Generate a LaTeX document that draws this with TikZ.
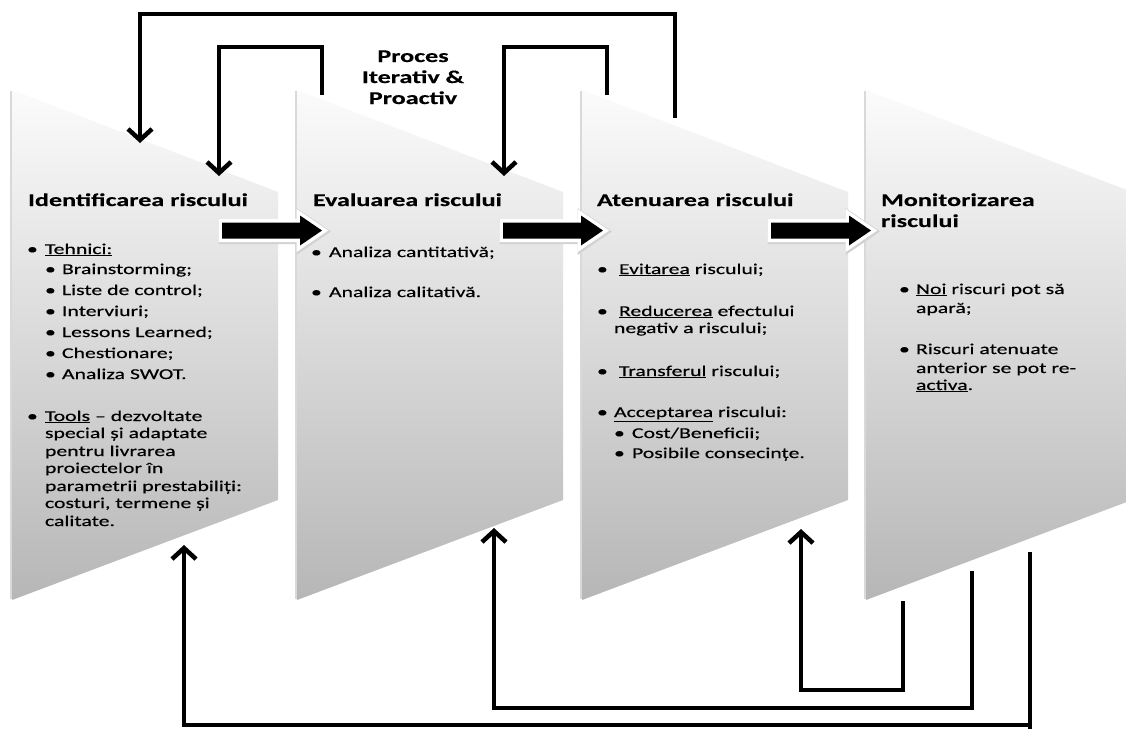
\documentclass[tikz,border=0pt]{standalone}
\usepackage{fontspec}
\setmainfont{Carlito}[FakeStretch=1.45, UprightFeatures={FakeBold=0.4}, BoldFeatures={FakeBold=0.3}]
\usetikzlibrary{arrows.meta}
\definecolor{ptop}{gray}{0.985}
\definecolor{pbot}{gray}{0.715}
\newcommand{\bul}[1]{\makebox[#1][l]{\textbullet}}
\newcommand{\ptext}[4]{\node[txt] (#1) at (#2,#3) {#4};}
\newcommand{\pbold}[4]{\node[ttl] (#1) at (#2,#3) {#4};}
\newcommand{\blockarrow}[2]{%
  \path[shadowline] (#1+1,#2-8+1) -- ++(78,0) -- ++(0,-7) -- ++(22,15) -- ++(-22,15) -- ++(0,-7) -- ++(-78,0) -- cycle;
  \path[whiteline] (#1,#2-8) -- ++(78,0) -- ++(0,-7) -- ++(22,15) -- ++(-22,15) -- ++(0,-7) -- ++(-78,0) -- cycle;
  \fill[black] (#1,#2-8) -- ++(78,0) -- ++(0,-7) -- ++(22,15) -- ++(-22,15) -- ++(0,-7) -- ++(-78,0) -- cycle;}
\tikzset{
  panel/.style={top color=ptop, bottom color=pbot, draw=none},
  paneledge/.style={draw=gray!30, line width=2pt},
  txt/.style={anchor=base west, inner sep=0pt, outer sep=0pt, text=black,
    font=\fontsize{15}{18}\selectfont},
  ttl/.style={anchor=base west, inner sep=0pt, outer sep=0pt, text=black,
    font=\fontsize{18}{21}\selectfont\bfseries},
  conn/.style={line width=4pt, draw=black, line join=miter},
  arr/.style={conn, -{Straight Barb[length=11pt,width=24pt,line width=4.5pt 0]}},
  shadowline/.style={draw=gray!35, line width=9pt, line join=miter},
  whiteline/.style={draw=white, fill=white, line width=7pt, line join=miter},
}
\begin{document}
\begin{tikzpicture}[x=1pt,y=-1pt]
\path[use as bounding box, fill=white] (0,0) rectangle (1126,729);
\begin{scope}
\clip (0,0) rectangle (1126,729);
% panels
\shade[panel] (12,90) -- (278,192) -- (278,500) -- (12,600) -- cycle;
\shade[panel] (297,90) -- (563,192) -- (563,500) -- (297,600) -- cycle;
\shade[panel] (582,90) -- (848,192) -- (848,500) -- (582,600) -- cycle;
\shade[panel] (866,90) -- (1132,192) -- (1132,500) -- (866,600) -- cycle;
\draw[paneledge] (11,91) -- (11,599);
\draw[paneledge] (296,91) -- (296,599);
\draw[paneledge] (581,91) -- (581,599);
\draw[paneledge] (865,91) -- (865,599);
\end{scope}
% block arrows
\blockarrow{222}{230.5}
\blockarrow{503}{230.5}
\blockarrow{771}{230.5}
% top loop connectors
\coordinate (o1s) at (675,118); \coordinate (o1e) at (140,143);
\coordinate (i1s) at (322,95);  \coordinate (i1e) at (219,176);
\coordinate (i2s) at (607,95);  \coordinate (i2e) at (504,176);
\draw[arr] (o1s) -- ++(0,-104) -| (o1e);
\draw[arr] (i1s) -- ++(0,-48) -| (i1e);
\draw[arr] (i2s) -- ++(0,-48) -| (i2e);
% bottom loop connectors
\coordinate (b1s) at (903,601);  \coordinate (b1e) at (801,529);
\coordinate (b2s) at (972,571);  \coordinate (b2e) at (494,528);
\coordinate (b3s) at (1030,552); \coordinate (b3e) at (184,545);
\draw[arr] (b1s) -- ++(0,89) -| (b1e);
\draw[arr] (b2s) -- ++(0,137) -| (b2e);
\draw[arr] (b3s) -- ++(0,173) -| (b3e);
\draw[conn] (b3s) -- ++(0,177);
% central label
\node[ttl, anchor=base] (pr1) at (413,62) {Proces};
\node[ttl, anchor=base] (pr2) at (413,83) {Iterativ \&};
\node[ttl, anchor=base] (pr3) at (413,104) {Proactiv};
% panel 1
\pbold{t1}{28}{206}{Identificarea riscului}
\ptext{a1}{27}{254}{\bul{18pt}\underline{Tehnici:}}
\ptext{a2}{45}{274}{\bul{17pt}Brainstorming;}
\ptext{a3}{45}{295}{\bul{17pt}Liste de control;}
\ptext{a4}{45}{316}{\bul{17pt}Interviuri;}
\ptext{a5}{45}{337}{\bul{17pt}Lessons Learned;}
\ptext{a6}{45}{358}{\bul{17pt}Chestionare;}
\ptext{a7}{45}{379}{\bul{17pt}Analiza SWOT.}
\ptext{a8}{27}{421}{\bul{18pt}\underline{Tools} – dezvoltate}
\ptext{a9}{45}{438}{special și adaptate}
\ptext{a10}{45}{456}{pentru livrarea}
\ptext{a11}{45}{473}{proiectelor în}
\ptext{a12}{45}{491}{parametrii prestabiliți:}
\ptext{a13}{45}{508}{costuri, termene și}
\ptext{a14}{45}{526}{calitate.}
% panel 2
\pbold{t2}{313}{206}{Evaluarea riscului}
\ptext{b1}{311}{257}{\bul{18pt}Analiza cantitativă;}
\ptext{b2}{311}{297}{\bul{18pt}Analiza calitativă.}
% panel 3
\pbold{t3}{597}{206}{Atenuarea riscului}
\ptext{c1}{597}{274}{\bul{22pt}\underline{Evitarea} riscului;}
\ptext{c2}{597}{316}{\bul{22pt}\underline{Reducerea} efectului}
\ptext{c3}{614}{333}{negativ a riscului;}
\ptext{c4}{597}{376}{\bul{22pt}\underline{Transferul} riscului;}
\ptext{c5}{597}{417}{\bul{17pt}\underline{Acceptarea} riscului:}
\ptext{c6}{614}{438}{\bul{18pt}Cost/Beneficii;}
\ptext{c7}{614}{458}{\bul{18pt}Posibile consecințe.}
% panel 4
\pbold{t4}{881}{206}{Monitorizarea}
\pbold{t4b}{881}{227}{riscului}
\ptext{d1}{899}{294}{\bul{17pt}\underline{Noi} riscuri pot să}
\ptext{d2}{916}{313}{apară;}
\ptext{d3}{899}{354}{\bul{17pt}Riscuri atenuate}
\ptext{d4}{916}{373}{anterior se pot re-}
\ptext{d5}{916}{390}{\underline{activa}.}
\end{tikzpicture}
\end{document}
